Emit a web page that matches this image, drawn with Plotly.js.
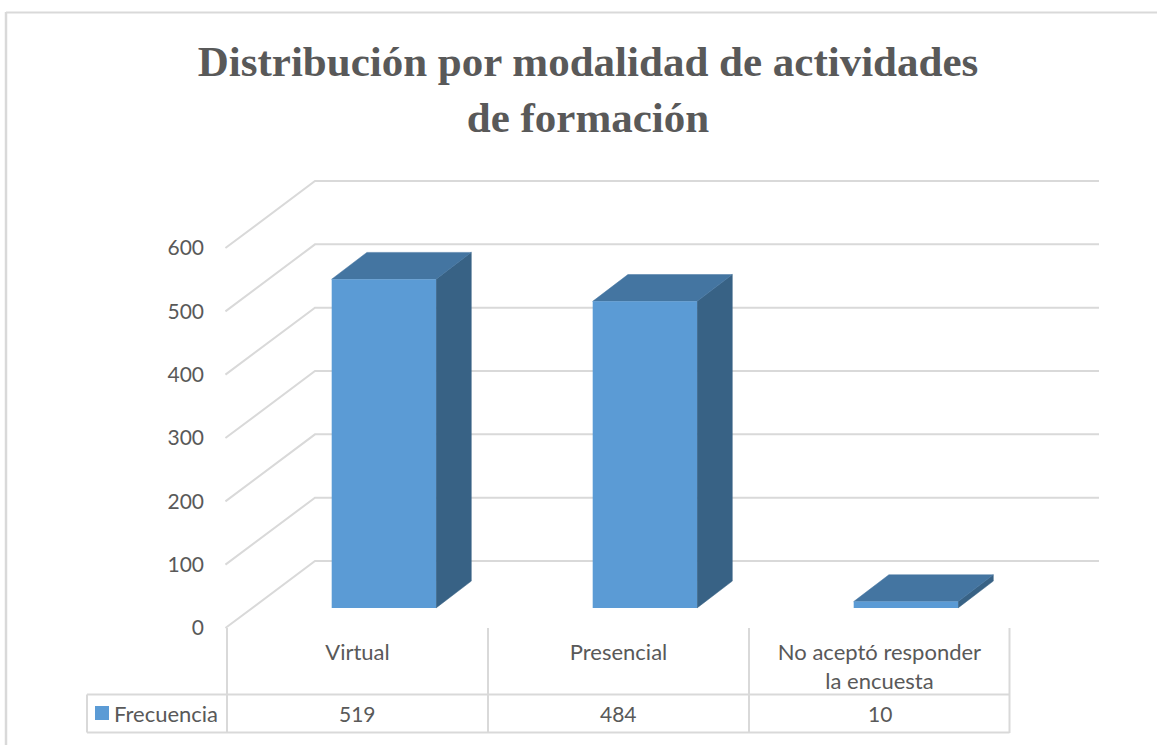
<!DOCTYPE html>
<html><head><meta charset="utf-8">
<script src="https://cdn.plot.ly/plotly-3.0.1.min.js"></script>
<style>html,body{margin:0;padding:0;background:#fff}#c{width:1157px;height:745px}</style>
</head><body><div id="c"></div>
<script>
const categories = ["Virtual", "Presencial", "No aceptó responder<br>la encuesta"];
const valueTicks = [0, 100, 200, 300, 400, 500, 600];
const seriesName = "Frecuencia";
const frecuencia = [519, 484, 10];
const titleText = "Distribución por modalidad de actividades<br>de formación";

const W = 1157, H = 745, L = 227, R = 1010, T = 248, B = 628;
const pxX = p => (p - L) / (R - L) * categories.length;
const pxY = p => (B - p) / (B - T) * 600;
const paperX = p => p / W;
const paperY = p => 1 - p / H;

const depthX = 88 / (R - L) * categories.length;
const depthY = 67 / (B - T) * 600;
const barW = 0.4, barDepth = 0.4, barStart = 0.3;
const FRONT = "#5B9BD5", TOP = "#4475A1", SIDE = "#386285", GRID = "#D9D9D9", TXT = "#595959";
const FONT = "Lato, 'Open Sans', sans-serif";

const poly = (xs, ys, color) => ({type:"scatter", mode:"lines", x:[...xs, xs[0]], y:[...ys, ys[0]], fill:"toself",
  fillcolor:color, line:{color:color, width:0.5}, hoverinfo:"skip", showlegend:false, zorder:2});
const wall = {type:"scatter", mode:"lines", x:[], y:[], line:{color:GRID, width:2}, hoverinfo:"skip", showlegend:false, zorder:0};
valueTicks.forEach(v => {
  wall.x.push(-0.006, depthX, pxX(1099), null);
  wall.y.push(v, v + depthY, v + depthY, null);
});
const traces = [wall];
const frontX = categories.map((_, i) => i + 0.5 + barStart * depthX);
const base = barStart * depthY;
frecuencia.forEach((v, i) => {
  const x0 = frontX[i] - barW / 2, x1 = frontX[i] + barW / 2;
  const dx = barDepth * depthX, dy = barDepth * depthY;
  traces.push(poly([x1, x1 + dx, x1 + dx, x1], [base, base + dy, base + v + dy, base + v], SIDE));
  traces.push(poly([x0, x0 + dx, x1 + dx, x1], [base + v, base + v + dy, base + v + dy, base + v], TOP));
});
traces.push({type:"bar", name:seriesName, x:frontX, y:frecuencia, base:base, width:barW,
  marker:{color:FRONT, line:{width:0}}, hoverinfo:"x+y", showlegend:false, zorder:3});

const line = (x0, y0, x1, y1, w) => ({type:"line", xref:"paper", yref:"paper",
  x0:paperX(x0), y0:paperY(y0), x1:paperX(x1), y1:paperY(y1), line:{color:GRID, width:w||2}, layer:"below"});
const shapes = [
  line(6, 12.5, W, 12.5), line(6, 12, 6, H, 2.5),
  line(87, 694.5, R - 0.5, 694.5), line(87, 732.5, R - 0.5, 732.5), line(87, 694.5, 87, 732.5),
];
[L, L + 261, L + 522, R - 0.5].forEach(p => shapes.push(line(p, 628, p, 733)));
shapes.push({type:"rect", xref:"paper", yref:"paper", x0:paperX(95), x1:paperX(109), y0:paperY(720), y1:paperY(706),
  fillcolor:FRONT, line:{width:0}});

const annotations = frecuencia.map((v, i) => ({xref:"x", yref:"paper", x:i + 0.5, y:paperY(713), text:String(v),
  showarrow:false, xanchor:"center", yanchor:"middle", font:{family:FONT, size:21, color:TXT}}));
annotations.push({xref:"paper", yref:"paper", x:paperX(114), y:paperY(713), text:seriesName, showarrow:false,
  xanchor:"left", yanchor:"middle", xshift:-2, font:{family:FONT, size:22, color:TXT}});

Plotly.newPlot("c", traces, {
  width:W, height:H, margin:{l:0, r:0, t:0, b:0, pad:0},
  paper_bgcolor:"#fff", plot_bgcolor:"rgba(0,0,0,0)", showlegend:false, barmode:"overlay",
  title:{text:titleText, x:588 / W, xanchor:"center", y:1 - 76 / H, yanchor:"top",
    font:{family:"'Liberation Serif', serif", size:43, color:TXT, weight:700}},
  xaxis:{range:[pxX(0), pxX(W)], anchor:"free", position:(H - B) / H, tickmode:"array",
    tickvals:categories.map((_, i) => i + 0.5), ticktext:categories,
    showgrid:false, zeroline:false, showline:false, ticks:"", tickangle:0, ticklabelstandoff:9,
    tickfont:{family:FONT, size:22, color:TXT}, fixedrange:true},
  yaxis:{range:[pxY(H), pxY(0)], anchor:"free", position:L / W, tickmode:"array", tickvals:valueTicks,
    showgrid:false, zeroline:false, showline:false,
    ticks:"", ticklabelstandoff:23, tickfont:{family:FONT, size:21, color:TXT}, fixedrange:true},
  shapes, annotations
}, {displayModeBar:false, responsive:false});
</script></body></html>
